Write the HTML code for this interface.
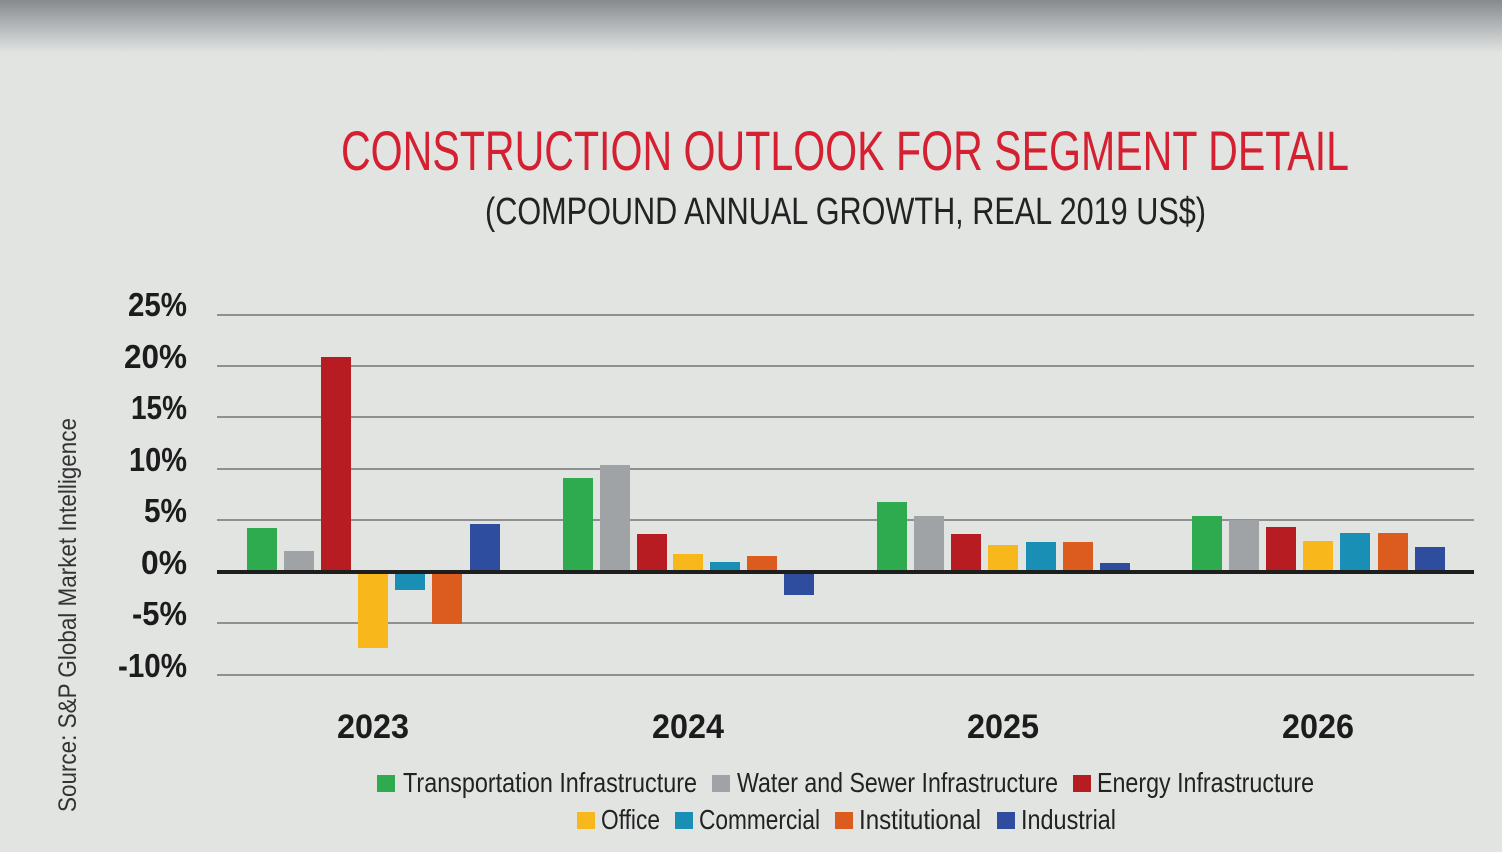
<!DOCTYPE html>
<html><head><meta charset="utf-8"><style>
html,body{margin:0;padding:0;width:1502px;height:852px;overflow:hidden;background:#e2e4e2}
svg{display:block}
</style></head><body>
<svg width="1502" height="852" viewBox="0 0 1502 852" xmlns="http://www.w3.org/2000/svg" font-family="'Liberation Sans Narrow','Liberation Sans',sans-serif">
<defs><linearGradient id="g" x1="0" y1="0" x2="0" y2="1">
<stop offset="0" stop-color="#868a8c"/><stop offset="0.5" stop-color="#b4b8ba"/><stop offset="1" stop-color="#e2e4e2"/></linearGradient></defs>
<rect width="1502" height="852" fill="#e2e4e2"/>
<rect width="1502" height="53" fill="url(#g)"/>
<text x="341" y="170" font-size="56" fill="#d42030" textLength="1008" lengthAdjust="spacingAndGlyphs">CONSTRUCTION OUTLOOK FOR SEGMENT DETAIL</text>
<text x="485" y="224" font-size="38" fill="#222" textLength="721" lengthAdjust="spacingAndGlyphs">(COMPOUND ANNUAL GROWTH, REAL 2019 US$)</text>
<g stroke="#8e8f90" stroke-width="2">
<line x1="217" y1="315" x2="1474" y2="315"/><line x1="217" y1="366" x2="1474" y2="366"/>
<line x1="217" y1="417" x2="1474" y2="417"/><line x1="217" y1="469" x2="1474" y2="469"/>
<line x1="217" y1="520" x2="1474" y2="520"/><line x1="217" y1="623" x2="1474" y2="623"/>
<line x1="217" y1="675" x2="1474" y2="675"/></g>
<g font-family="'Liberation Sans',sans-serif" font-weight="bold" font-size="33" fill="#1c1c1c" text-anchor="end">
<text x="187" y="316" textLength="59" lengthAdjust="spacingAndGlyphs">25%</text>
<text x="187" y="368" textLength="63" lengthAdjust="spacingAndGlyphs">20%</text>
<text x="187" y="419" textLength="56" lengthAdjust="spacingAndGlyphs">15%</text>
<text x="187" y="471" textLength="58" lengthAdjust="spacingAndGlyphs">10%</text>
<text x="187" y="522" textLength="43" lengthAdjust="spacingAndGlyphs">5%</text>
<text x="187" y="574" textLength="46" lengthAdjust="spacingAndGlyphs">0%</text>
<text x="187" y="625" textLength="55" lengthAdjust="spacingAndGlyphs">-5%</text>
<text x="187" y="677" textLength="69" lengthAdjust="spacingAndGlyphs">-10%</text>
</g>
<g>
<rect x="247" y="528" width="30" height="44" fill="#2eaa4f"/>
<rect x="284" y="551" width="30" height="21" fill="#a0a3a5"/>
<rect x="321" y="357" width="30" height="215" fill="#b71c22"/>
<rect x="358" y="572" width="30" height="76" fill="#f8b81c"/>
<rect x="395" y="572" width="30" height="18" fill="#1a8fb5"/>
<rect x="432" y="572" width="30" height="52" fill="#db5c1e"/>
<rect x="470" y="524" width="30" height="48" fill="#2e4d9e"/>

<rect x="563" y="478" width="30" height="94" fill="#2eaa4f"/>
<rect x="600" y="465" width="30" height="107" fill="#a0a3a5"/>
<rect x="637" y="534" width="30" height="38" fill="#b71c22"/>
<rect x="673" y="554" width="30" height="18" fill="#f8b81c"/>
<rect x="710" y="562" width="30" height="10" fill="#1a8fb5"/>
<rect x="747" y="556" width="30" height="16" fill="#db5c1e"/>
<rect x="784" y="572" width="30" height="23" fill="#2e4d9e"/>

<rect x="877" y="502" width="30" height="70" fill="#2eaa4f"/>
<rect x="914" y="516" width="30" height="56" fill="#a0a3a5"/>
<rect x="951" y="534" width="30" height="38" fill="#b71c22"/>
<rect x="988" y="545" width="30" height="27" fill="#f8b81c"/>
<rect x="1026" y="542" width="30" height="30" fill="#1a8fb5"/>
<rect x="1063" y="542" width="30" height="30" fill="#db5c1e"/>
<rect x="1100" y="563" width="30" height="9" fill="#2e4d9e"/>

<rect x="1192" y="516" width="30" height="56" fill="#2eaa4f"/>
<rect x="1229" y="520" width="30" height="52" fill="#a0a3a5"/>
<rect x="1266" y="527" width="30" height="45" fill="#b71c22"/>
<rect x="1303" y="541" width="30" height="31" fill="#f8b81c"/>
<rect x="1340" y="533" width="30" height="39" fill="#1a8fb5"/>
<rect x="1378" y="533" width="30" height="39" fill="#db5c1e"/>
<rect x="1415" y="547" width="30" height="25" fill="#2e4d9e"/>
</g>
<line x1="217" y1="572" x2="1474" y2="572" stroke="#1e1e1e" stroke-width="4"/>
<g font-family="'Liberation Sans',sans-serif" font-weight="bold" font-size="34" fill="#1c1c1c" text-anchor="middle">
<text x="373" y="738" textLength="72" lengthAdjust="spacingAndGlyphs">2023</text>
<text x="688" y="738" textLength="72" lengthAdjust="spacingAndGlyphs">2024</text>
<text x="1003" y="738" textLength="72" lengthAdjust="spacingAndGlyphs">2025</text>
<text x="1318" y="738" textLength="72" lengthAdjust="spacingAndGlyphs">2026</text>
</g>
<text transform="translate(76,812) rotate(-90)" font-size="25" fill="#333" textLength="394" lengthAdjust="spacingAndGlyphs">Source: S&amp;P Global Market Intelligence</text>
<g font-size="28" fill="#222">
<rect x="377" y="775" width="18" height="17" fill="#2eaa4f"/><text x="403" y="792" textLength="294" lengthAdjust="spacingAndGlyphs">Transportation Infrastructure</text>
<rect x="712" y="775" width="18" height="17" fill="#a0a3a5"/><text x="737" y="792" textLength="321" lengthAdjust="spacingAndGlyphs">Water and Sewer Infrastructure</text>
<rect x="1073" y="775" width="18" height="17" fill="#b71c22"/><text x="1097" y="792" textLength="217" lengthAdjust="spacingAndGlyphs">Energy Infrastructure</text>
<rect x="577" y="812" width="18" height="17" fill="#f8b81c"/><text x="601" y="829" textLength="59" lengthAdjust="spacingAndGlyphs">Office</text>
<rect x="675" y="812" width="18" height="17" fill="#1a8fb5"/><text x="699" y="829" textLength="121" lengthAdjust="spacingAndGlyphs">Commercial</text>
<rect x="835" y="812" width="18" height="17" fill="#db5c1e"/><text x="859" y="829" textLength="122" lengthAdjust="spacingAndGlyphs">Institutional</text>
<rect x="997" y="812" width="18" height="17" fill="#2e4d9e"/><text x="1021" y="829" textLength="95" lengthAdjust="spacingAndGlyphs">Industrial</text>
</g>
</svg>
</body></html>
